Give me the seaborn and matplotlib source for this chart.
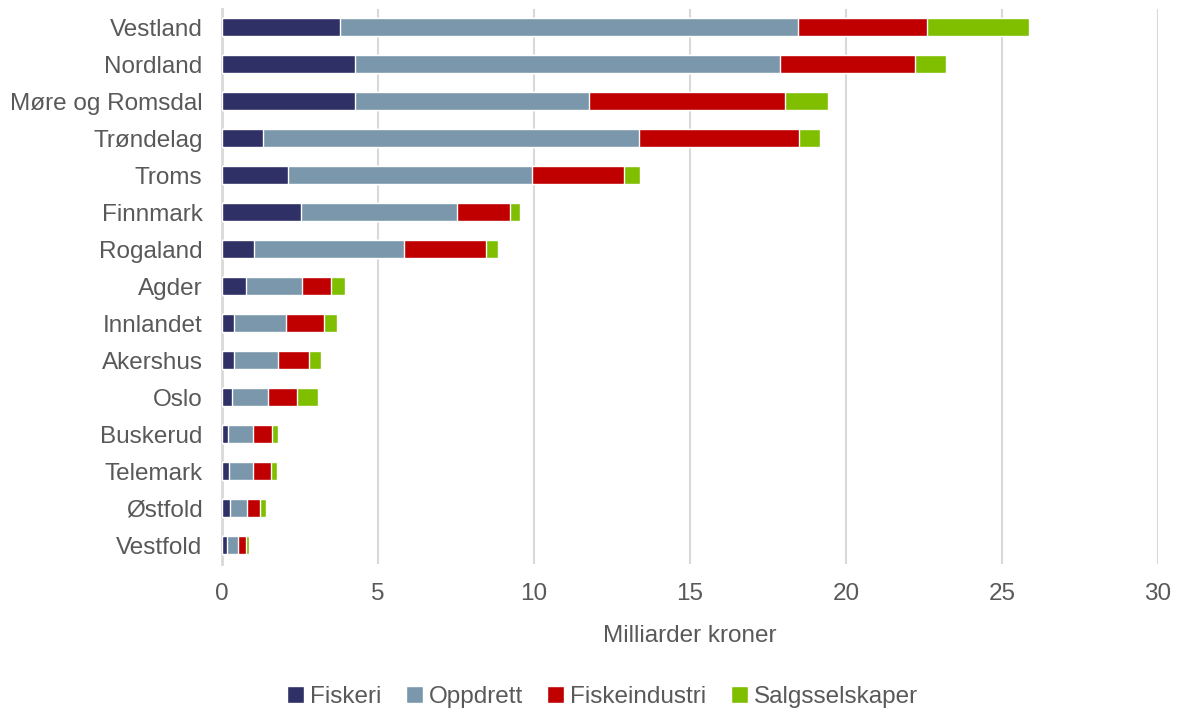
import numpy as np
import pandas as pd
import seaborn as sns
import matplotlib.pyplot as plt
from matplotlib.patches import Patch

# Data (milliarder kroner)
regions = ['Vestland', 'Nordland', 'Møre og Romsdal', 'Trøndelag', 'Troms',
           'Finnmark', 'Rogaland', 'Agder', 'Innlandet', 'Akershus', 'Oslo',
           'Buskerud', 'Telemark', 'Østfold', 'Vestfold']
fiskeri = [3.78, 4.27, 4.27, 1.31, 2.10, 2.53, 1.03, 0.77, 0.38, 0.38, 0.32,
           0.19, 0.22, 0.26, 0.16]
oppdrett = [14.68, 13.63, 7.50, 12.04, 7.84, 5.00, 4.80, 1.78, 1.66, 1.40, 1.15,
            0.80, 0.77, 0.53, 0.34]
fiskeindustri = [4.14, 4.30, 6.28, 5.15, 2.94, 1.71, 2.62, 0.94, 1.23, 1.00, 0.94,
                 0.61, 0.58, 0.44, 0.27]
salgsselskaper = [3.28, 1.00, 1.38, 0.68, 0.52, 0.31, 0.39, 0.45, 0.42, 0.38, 0.68,
                  0.20, 0.18, 0.17, 0.10]

series = ['Fiskeri', 'Oppdrett', 'Fiskeindustri', 'Salgsselskaper']
colors = ['#2E3066', '#7A97AB', '#C00000', '#7FBF00']
text_col = '#595959'

df = pd.DataFrame({'region': regions, 'Fiskeri': fiskeri, 'Oppdrett': oppdrett,
                   'Fiskeindustri': fiskeindustri, 'Salgsselskaper': salgsselskaper})
cum = df[series].cumsum(axis=1)

sns.set_theme(style='white')
plt.rcParams['font.family'] = ['Liberation Sans', 'DejaVu Sans']

fig, ax = plt.subplots(figsize=(11.81, 7.09), dpi=100)
fig.subplots_adjust(left=0.188, right=0.9805, top=0.988, bottom=0.205)

# stacked bars: draw cumulative totals from the largest down
for s, c in zip(series[::-1], colors[::-1]):
    sns.barplot(x=cum[s], y=df['region'], orient='h', color=c, width=0.48,
                saturation=1, ax=ax, zorder=3)

ax.set_xlim(0, 30)
ax.set_xticks(range(0, 31, 5))
ax.grid(axis='x', color='#D9D9D9', linewidth=1.5, zorder=0)
ax.grid(axis='y', visible=False)
for side in ['top', 'right', 'bottom']:
    ax.spines[side].set_visible(False)
ax.spines['left'].set_color('#D9D9D9')
ax.spines['left'].set_linewidth(2)
ax.tick_params(axis='both', length=0, labelsize=17.5, colors=text_col)
ax.tick_params(axis='y', pad=14)
ax.tick_params(axis='x', pad=14)
ax.set_ylabel('')
ax.set_xlabel('Milliarder kroner', fontsize=17.5, color=text_col, labelpad=14)

handles = [Patch(facecolor=c, label=s) for s, c in zip(series, colors)]
fig.legend(handles=handles, loc='lower center', bbox_to_anchor=(0.51, -0.03), ncol=4,
           frameon=False, fontsize=17.5, labelcolor=text_col, handlelength=0.7,
           handleheight=0.7, handletextpad=0.25, columnspacing=1.0)

fig.savefig('out.png', dpi=100)
